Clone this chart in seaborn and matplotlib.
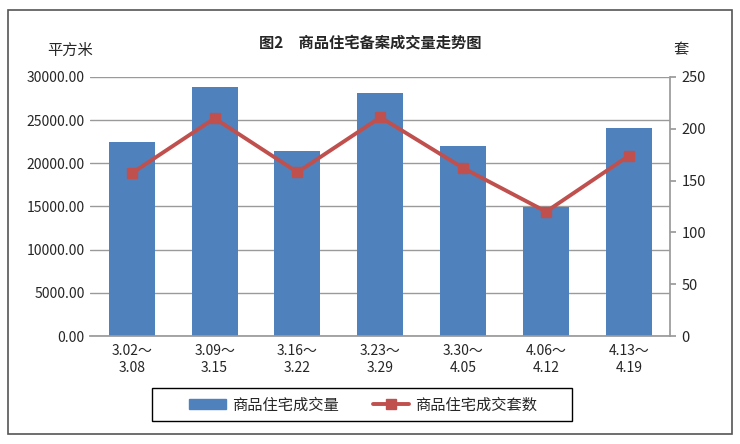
import numpy as np
import pandas as pd
import matplotlib
matplotlib.use("Agg")
import matplotlib.pyplot as plt
import seaborn as sns
from matplotlib.patches import Rectangle, Patch
from matplotlib.lines import Line2D

# =========================
# Data
# =========================
weeks = ["3.02～\n3.08", "3.09～\n3.15", "3.16～\n3.22", "3.23～\n3.29",
         "3.30～\n4.05", "4.06～\n4.12", "4.13～\n4.19"]
area = [22450, 28850, 21400, 28100, 21950, 14950, 24050]   # 平方米
units = [157, 210, 158, 211, 162, 120, 174]                # 套

df = pd.DataFrame({"week": weeks, "area": area, "units": units})

bar_color = "#4F81BD"
line_color = "#C0504D"

sns.set_theme(style="white")
plt.rcParams['font.family'] = ['Noto Sans CJK SC', 'DejaVu Sans']

fig = plt.figure(figsize=(7.4, 4.44), dpi=100)
ax = fig.add_axes([0.122, 0.243, 0.784, 0.584])

sns.barplot(data=df, x="week", y="area", color=bar_color, width=0.555,
            saturation=1, linewidth=0, ax=ax, zorder=2)
ax.set_ylim(0, 30000)
ax.set_yticks(np.arange(0, 30001, 5000))
ax.set_yticklabels([f"{v:.2f}" for v in np.arange(0, 30001, 5000)], fontsize=10)
ax.yaxis.grid(True, color="#9a9a9a", linewidth=1, zorder=0)
ax.set_axisbelow(True)
ax.set_xlabel("")
ax.set_ylabel("")
ax.tick_params(axis="x", labelsize=10, length=0, pad=6)
ax.tick_params(axis="y", length=0, pad=4)
for s in ["top", "left", "right"]:
    ax.spines[s].set_visible(False)
ax.spines["bottom"].set_color("#9a9a9a")

ax2 = ax.twinx()
ax2.plot(np.arange(len(weeks)), df["units"], color=line_color, linewidth=2.8,
         marker="s", markersize=7.5, zorder=3)
ax2.set_ylim(0, 250)
ax2.set_yticks(np.arange(0, 251, 50))
ax2.tick_params(axis="y", labelsize=10.5, length=4, direction="out", color="#9a9a9a",
                right=True, pad=4)
for s in ["top", "left", "bottom"]:
    ax2.spines[s].set_visible(False)
ax2.spines["right"].set_color("#9a9a9a")
ax2.grid(False)
ax.set_xlim(-0.5, len(weeks) - 0.5)

# Titles / axis units
fig.text(0.5, 0.905, "图2　商品住宅备案成交量走势图", ha="center", va="center",
         fontsize=11, fontweight="bold")
fig.text(0.095, 0.887, "平方米", ha="center", va="center", fontsize=11)
fig.text(0.92, 0.887, "套", ha="center", va="center", fontsize=11)

# Legend (no frame; frame drawn separately to match the reference box)
handles = [Patch(facecolor=bar_color, edgecolor=bar_color),
           Line2D([0], [0], color=line_color, linewidth=2.8, marker="s", markersize=7.5)]
leg = fig.legend(handles, ["商品住宅成交量", "商品住宅成交套数"], loc="center",
                 bbox_to_anchor=(0.491, 0.088), ncol=2, fontsize=11,
                 frameon=False, handlelength=2.4, handletextpad=0.4,
                 columnspacing=2.2)
fig.patches.append(Rectangle((0.205, 0.052), 0.568, 0.074, transform=fig.transFigure,
                             fill=False, edgecolor="black", linewidth=1))

# Outer border
fig.patches.append(Rectangle((0.011, 0.022), 0.978, 0.955, transform=fig.transFigure,
                             fill=False, edgecolor="#555555", linewidth=1.2))

fig.savefig("out.png", dpi=100)
